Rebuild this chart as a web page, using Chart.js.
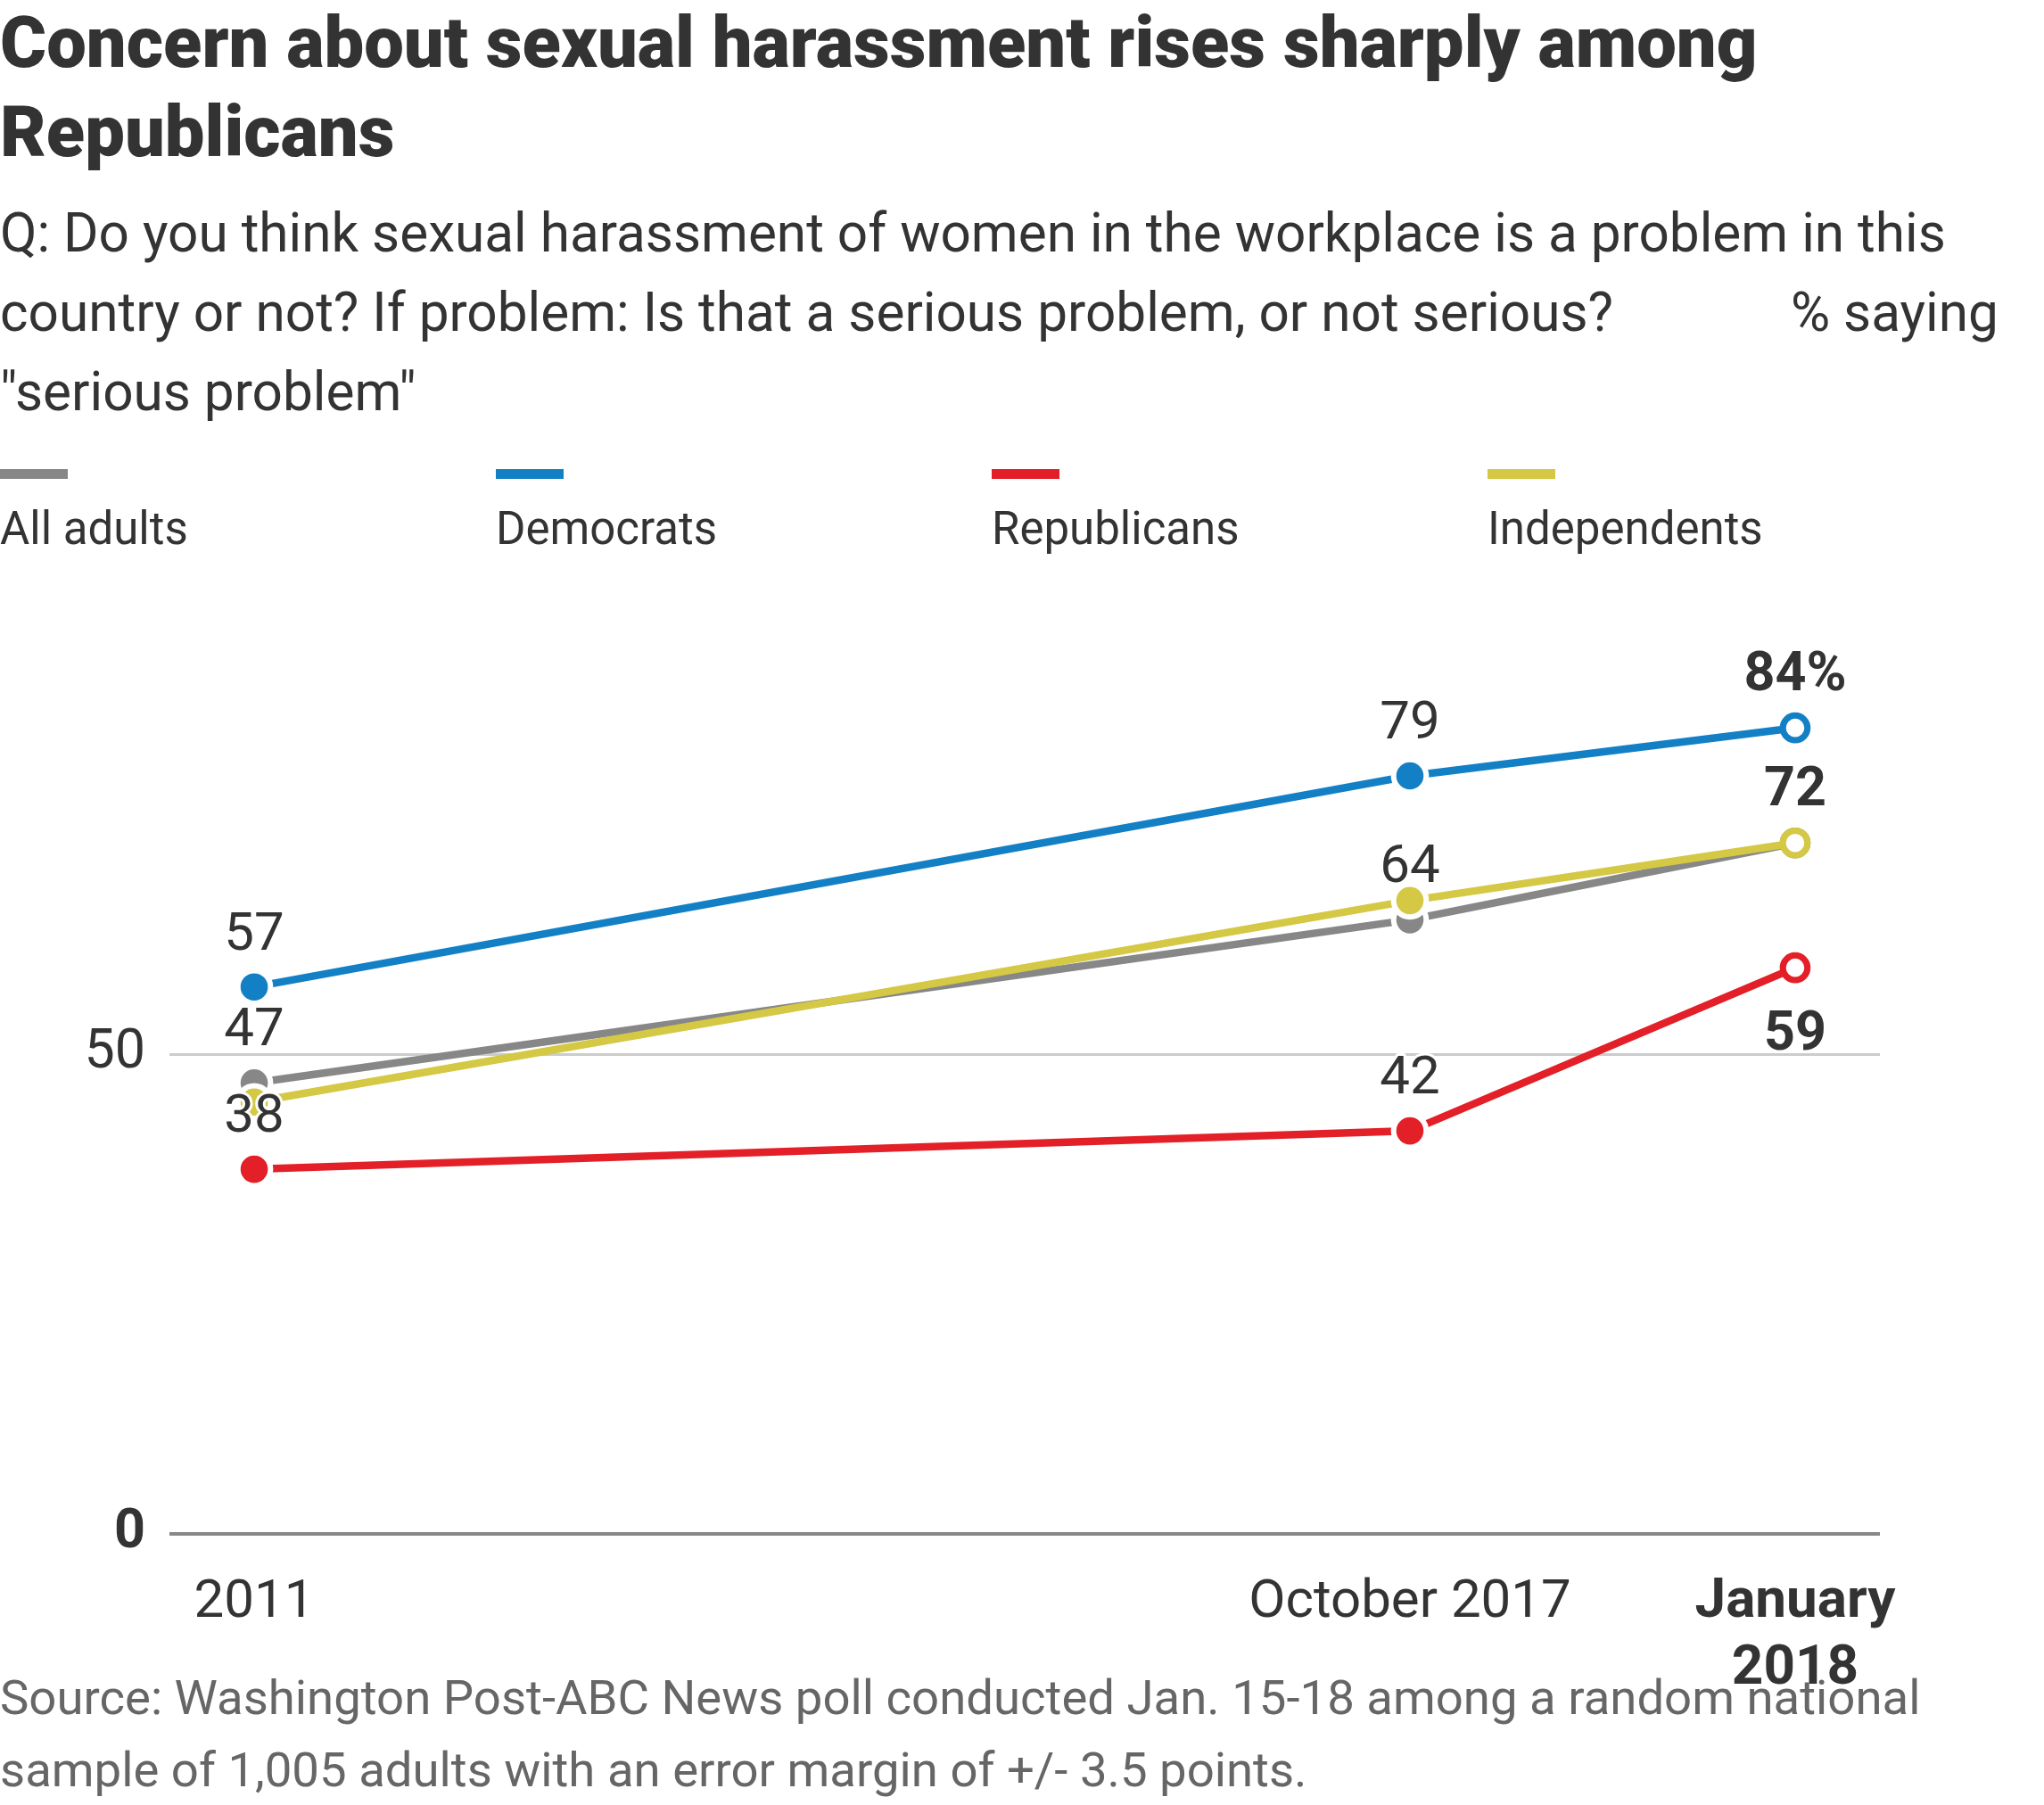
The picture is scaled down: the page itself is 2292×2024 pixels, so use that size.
<!DOCTYPE html>
<html>
<head>
<meta charset="utf-8">
<script src="https://cdn.jsdelivr.net/npm/chart.js@4.4.1/dist/chart.umd.min.js"></script>
<style>
  html, body { margin: 0; padding: 0; background: #fff; }
  body { width: 2292px; height: 2024px; position: relative; overflow: hidden; font-family: Roboto, "Noto Sans", sans-serif; color: #333; }
  #c { position: absolute; left: 0; top: 0; }
  .t { position: absolute; white-space: nowrap; }
  #title { left: 0; top: -2px; font-size: 79.5px; font-weight: 900; line-height: 100px; color: #333; }
  #sub { left: 0; top: 217px; font-size: 60.3px; line-height: 89px; color: #333; }
  #saying { left: 2008px; top: 306px; font-size: 60.3px; line-height: 89px; color: #333; }
  .sw { position: absolute; top: 526px; width: 76px; height: 11px; }
  .lg { position: absolute; top: 563px; font-size: 51px; line-height: 60px; color: #333; white-space: nowrap; }
  #src { left: 0; top: 1863px; font-size: 54.5px; line-height: 81px; color: #666; }
</style>
</head>
<body>
<canvas id="c" width="2292" height="2024"></canvas>
<div class="t" id="title">Concern about sexual harassment rises sharply among<br>Republicans</div>
<div class="t" id="sub">Q: Do you think sexual harassment of women in the workplace is a problem in this<br>country or not? If problem: Is that a serious problem, or not serious?<br>"serious problem"</div>
<div class="t" id="saying">% saying</div>
<div id="legend"></div>
<div class="t" id="src">Source: Washington Post-ABC News poll conducted Jan. 15-18 among a random national<br>sample of 1,005 adults with an error margin of +/- 3.5 points.</div>
<script>
// ---- data ----
const categories = ['2011', 'October 2017', ['January', '2018']];
const xSlots = [0, 3, 4];            // relative spacing of the three survey dates on the axis
const allAdults    = [47, 64, 72];
const democrats    = [57, 79, 84];
const republicans  = [38, 42, 59];
const independents = [45, 66, 72];
const yTicks = [0, 50];

// ---- styling ----
const FONT = 'Roboto';
const TEXT = '#333333';
const seriesNames  = ['All adults', 'Democrats', 'Republicans', 'Independents'];
const seriesValues = [allAdults, democrats, republicans, independents];
const seriesColors = ['#878787', '#1380c6', '#e31f28', '#d4c845'];
const seriesOrder  = [2, 3, 4, 1];   // lower = drawn on top
const labelPlacement = [
  ['above', 'above', null],
  ['above', 'above', 'above'],
  ['above', 'above', 'below'],
  [null, null, 'above']
];
const labelSuffix = [['', '', ''], ['', '', '%'], ['', '', ''], ['', '', '']];

// legend (HTML text)
const legendLeft = [0, 556, 1112, 1668];
const legendEl = document.getElementById('legend');
seriesNames.forEach((name, i) => {
  const sw = document.createElement('div');
  sw.className = 'sw';
  sw.style.left = legendLeft[i] + 'px';
  sw.style.background = seriesColors[i];
  legendEl.appendChild(sw);
  const lb = document.createElement('div');
  lb.className = 'lg';
  lb.style.left = legendLeft[i] + 'px';
  lb.textContent = name;
  legendEl.appendChild(lb);
});

const lastIdx = xSlots.length - 1;

const datasets = seriesNames.map((name, si) => ({
  label: name,
  data: xSlots.map((x, i) => ({ x: x, y: seriesValues[si][i] })),
  borderColor: seriesColors[si],
  borderWidth: 8.5,
  tension: 0,
  order: seriesOrder[si],
  clip: false,
  pointRadius: ctx => ctx.dataIndex === lastIdx ? 13.8 : 18.3,
  pointBorderWidth: ctx => ctx.dataIndex === lastIdx ? 7 : 6,
  pointBackgroundColor: ctx => ctx.dataIndex === lastIdx ? '#ffffff' : seriesColors[si],
  pointBorderColor: ctx => ctx.dataIndex === lastIdx ? seriesColors[si] : '#ffffff',
  pointHoverRadius: ctx => ctx.dataIndex === lastIdx ? 13.8 : 18.3
}));

const valueLabels = {
  id: 'valueLabels',
  afterDatasetsDraw(chart) {
    const ctx = chart.ctx;
    chart.data.datasets.forEach((ds, di) => {
      const meta = chart.getDatasetMeta(di);
      meta.data.forEach((pt, i) => {
        const where = labelPlacement[di][i];
        if (!where) return;
        const bold = i === lastIdx;
        const txt = String(seriesValues[di][i]) + labelSuffix[di][i];
        const y = where === 'above' ? pt.y - 42 : pt.y + 92;
        ctx.save();
        ctx.font = (bold ? 'bold 61px ' : '60px ') + FONT;
        ctx.textAlign = 'center';
        ctx.textBaseline = 'alphabetic';
        ctx.lineJoin = 'round';
        ctx.lineWidth = 6;
        ctx.strokeStyle = '#ffffff';
        ctx.strokeText(txt, pt.x, y);
        ctx.fillStyle = TEXT;
        ctx.fillText(txt, pt.x, y);
        ctx.restore();
      });
    });
  }
};

Chart.defaults.font.family = FONT;

new Chart(document.getElementById('c'), {
  type: 'line',
  data: { datasets: datasets },
  plugins: [valueLabels],
  options: {
    responsive: false,
    devicePixelRatio: 1,
    animation: false,
    events: [],
    layout: { padding: { top: 644, right: 184, bottom: 0, left: 0 } },
    plugins: { legend: { display: false }, tooltip: { enabled: false }, title: { display: false } },
    scales: {
      x: {
        type: 'linear',
        min: -0.22,
        max: 4.22,
        afterBuildTicks: s => { s.ticks = xSlots.map(v => ({ value: v })); },
        afterFit: s => { s.height = 304; },
        grid: { display: false, drawTicks: false },
        border: { display: false },
        ticks: {
          autoSkip: false,
          maxRotation: 0,
          minRotation: 0,
          padding: 40,
          color: TEXT,
          font: ctx => {
            const bold = ctx.tick && ctx.tick.value === xSlots[lastIdx];
            return { family: FONT, size: bold ? 62 : 60, lineHeight: bold ? 1.21 : 1.25, weight: bold ? 'bold' : 'normal' };
          },
          callback: v => categories[xSlots.indexOf(v)]
        }
      },
      y: {
        type: 'linear',
        min: 0,
        max: 100,
        afterBuildTicks: s => { s.ticks = yTicks.map(v => ({ value: v })); },
        afterFit: s => { s.width = 190; },
        grid: {
          drawTicks: false,
          color: ctx => (ctx.tick && ctx.tick.value === 0) ? '#888888' : '#cccccc',
          lineWidth: ctx => (ctx.tick && ctx.tick.value === 0) ? 4 : 3
        },
        border: { display: false },
        ticks: {
          padding: 27,
          color: TEXT,
          font: ctx => ({ family: FONT, size: 61, weight: (ctx.tick && ctx.tick.value === 0) ? 'bold' : 'normal' }),
          callback: v => String(v)
        }
      }
    }
  }
});
</script>
</body>
</html>
